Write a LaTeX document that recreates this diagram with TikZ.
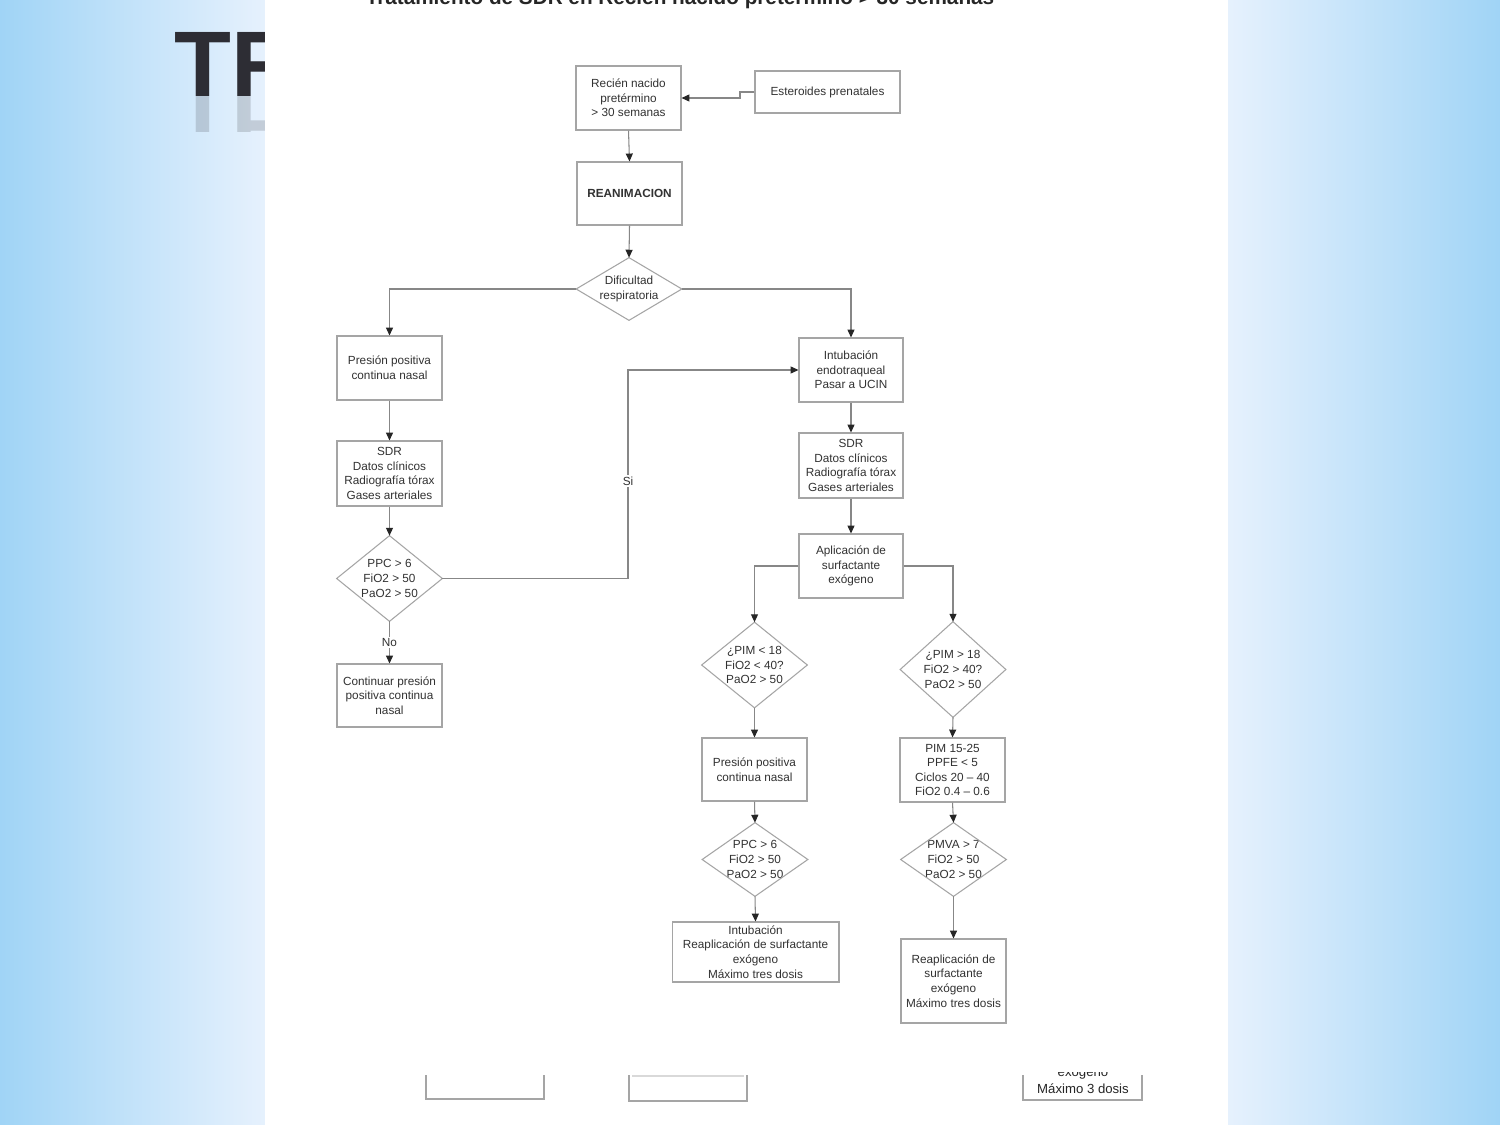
\documentclass[tikz,border=0pt]{standalone}
\usepackage{fontspec}
\setmainfont{Liberation Sans}
\usetikzlibrary{arrows.meta}
\definecolor{bgdark}{RGB}{160,212,246}
\definecolor{bglight}{RGB}{230,241,253}
\definecolor{txt}{RGB}{50,50,50}
\definecolor{edge}{RGB}{165,165,165}
\definecolor{conn}{RGB}{135,135,135}
\definecolor{trcol}{RGB}{45,45,52}
\begin{document}
\begin{tikzpicture}[x=0.02cm,y=-0.02cm,
  every node/.style={font=\fontsize{6.7}{8.3}\selectfont, text=txt, align=center},
  box/.style={draw=edge, line width=0.6pt, rectangle, inner sep=0pt},
  dia/.style={rectangle, inner sep=0pt},
  diaedge/.style={draw=edge, line width=0.6pt},
  arr/.style={draw=conn, line width=0.6pt, -{Triangle[length=4.5pt,width=4pt,color=black!85]}},
  lbl/.style={fill=white, inner sep=1pt},
  partbox/.style={draw=edge, line width=0.6pt}]
\useasboundingbox (0,0) rectangle (1500,1125);
% background
\shade[left color=bgdark, right color=bglight] (0,0) rectangle (265,1125);
\shade[left color=bglight, right color=bgdark] (1228,0) rectangle (1500,1125);
% big title fragment
\node[anchor=base west, inner sep=0pt, font=\fontsize{53}{53}\selectfont\bfseries, text=trcol] (tr) at (174,97) {TR};
\begin{scope}
  \clip (150,97) rectangle (265,132);
  \node[anchor=base west, inner sep=0pt, yscale=-1, opacity=0.18, font=\fontsize{53}{53}\selectfont\bfseries, text=trcol] (trr) at (174,97) {TR};
\end{scope}
% white panel
\fill[white] (265,0) rectangle (1228,1125);
\begin{scope}
  \clip (265,0) rectangle (1228,20);
  \node[anchor=base, inner sep=0pt, font=\fontsize{11.8}{13}\selectfont\bfseries, text=black!85] (title) at (680,5) {Tratamiento de SDR en Recién nacido  pretérmino > 30 semanas};
\end{scope}
% nodes
\node[box, minimum width=2.1cm, minimum height=1.28cm] (rn) at (628.5,98) {Recién nacido\\pretérmino\\> 30 semanas};
\node[box, minimum width=2.9cm, minimum height=0.84cm] (est) at (827.5,92) {Esteroides prenatales};
\node[box, minimum width=2.1cm, minimum height=1.26cm, font=\fontsize{6.7}{8.3}\selectfont\bfseries] (rea) at (629.5,193.5) {REANIMACION};
\node[dia, minimum width=2.1cm, minimum height=1.24cm] (dif) at (629,289) {Dificultad\\respiratoria};
\node[box, minimum width=2.1cm, minimum height=1.28cm] (ppc1) at (389.5,368) {Presión positiva\\continua nasal};
\node[box, minimum width=2.08cm, minimum height=1.28cm] (intu) at (851,370) {Intubación\\endotraqueal\\Pasar a UCIN};
\node[box, minimum width=2.1cm, minimum height=1.3cm] (sdr1) at (389.5,473.5) {SDR\\Datos clínicos\\Radiografía tórax\\Gases arteriales};
\node[dia, minimum width=2.1cm, minimum height=1.7cm] (d1) at (389.5,578.5) {PPC > 6\\FiO2 > 50\\PaO2 > 50};
\node[box, minimum width=2.1cm, minimum height=1.26cm] (cont) at (389.5,695.5) {Continuar presión\\positiva continua\\nasal};
\node[box, minimum width=2.08cm, minimum height=1.3cm] (sdr2) at (851,465.5) {SDR\\Datos clínicos\\Radiografía tórax\\Gases arteriales};
\node[box, minimum width=2.08cm, minimum height=1.28cm] (apl) at (851,566) {Aplicación de\\surfactante\\exógeno};
\node[dia, minimum width=2.1cm, minimum height=1.7cm] (d2) at (754.5,665) {¿PIM < 18\\FiO2 < 40?\\PaO2 > 50};
\node[dia, minimum width=2.1cm, minimum height=1.9cm] (d3) at (953,669.5) {¿PIM > 18\\FiO2 > 40?\\PaO2 > 50};
\node[box, minimum width=2.1cm, minimum height=1.26cm] (ppc2) at (754.5,769.5) {Presión positiva\\continua nasal};
\node[box, minimum width=2.1cm, minimum height=1.28cm] (pim) at (952.5,770) {PIM 15-25\\PPFE < 5\\Ciclos 20 – 40\\FiO2 0.4 – 0.6};
\node[dia, minimum width=2.1cm, minimum height=1.46cm] (d4) at (755,859.5) {PPC > 6\\FiO2 > 50\\PaO2 > 50};
\node[dia, minimum width=2.1cm, minimum height=1.46cm] (d5) at (953.5,859.5) {PMVA > 7\\FiO2 > 50\\PaO2 > 50};
\node[box, minimum width=3.34cm, minimum height=1.2cm] (reap1) at (755.5,952) {Intubación\\Reaplicación de surfactante\\exógeno\\Máximo tres dosis};
\node[box, minimum width=2.1cm, minimum height=1.68cm] (reap2) at (953.5,981) {Reaplicación de\\surfactante\\exógeno\\Máximo tres dosis};
% diamond outlines
\foreach \n in {dif,d1,d2,d3,d4,d5}
  \draw[diaedge] (\n.north) -- (\n.east) -- (\n.south) -- (\n.west) -- cycle;
% connectors
\draw[arr] (est.west) -- (740,92) -- (740,98) -- (rn.east);
\draw[arr] (rn.south) -- (rea.north);
\draw[arr] (rea.south) -- (dif.north);
\draw[arr] (dif.west) -| (ppc1.north);
\draw[arr] (dif.east) -| (intu.north);
\draw[arr] (ppc1.south) -- (sdr1.north);
\draw[arr] (sdr1.south) -- (d1.north);
\draw[arr] (d1.east) -- (628,578.5) -- (628,370) -- (intu.west);
\node[lbl] (si) at (628,481) {Si};
\draw[arr] (d1.south) -- node[lbl] (no) {No} (cont.north);
\draw[arr] (intu.south) -- (sdr2.north);
\draw[arr] (sdr2.south) -- (apl.north);
\draw[arr] (apl.west) -| (d2.north);
\draw[arr] (apl.east) -| (d3.north);
\draw[arr] (d2.south) -- (ppc2.north);
\draw[arr] (d3.south) -- (pim.north);
\draw[arr] (ppc2.south) -- (d4.north);
\draw[arr] (pim.south) -- (d5.north);
\draw[arr] (d4.south) -- (reap1.north);
\draw[arr] (d5.south) -- (reap2.north);
% bottom partial boxes
\draw[partbox] (426,1075) -- (426,1099) -- (544,1099) -- (544,1075);
\draw[partbox] (629,1075) -- (629,1101) -- (747,1101) -- (747,1075);
\draw[draw=black!15, line width=0.6pt] (632,1076) -- (744,1076);
\draw[partbox] (1023,1075) -- (1023,1100) -- (1142,1100) -- (1142,1075);
\node[font=\fontsize{7.5}{9}\selectfont, text=black!85] (max3) at (1083,1089) {Máximo 3 dosis};
\begin{scope}
  \clip (1030,1072) rectangle (1140,1080);
  \node[anchor=base, inner sep=0pt, font=\fontsize{7.5}{9}\selectfont, text=black!85] (exo) at (1083,1076) {exógeno};
\end{scope}
\end{tikzpicture}
\end{document}
